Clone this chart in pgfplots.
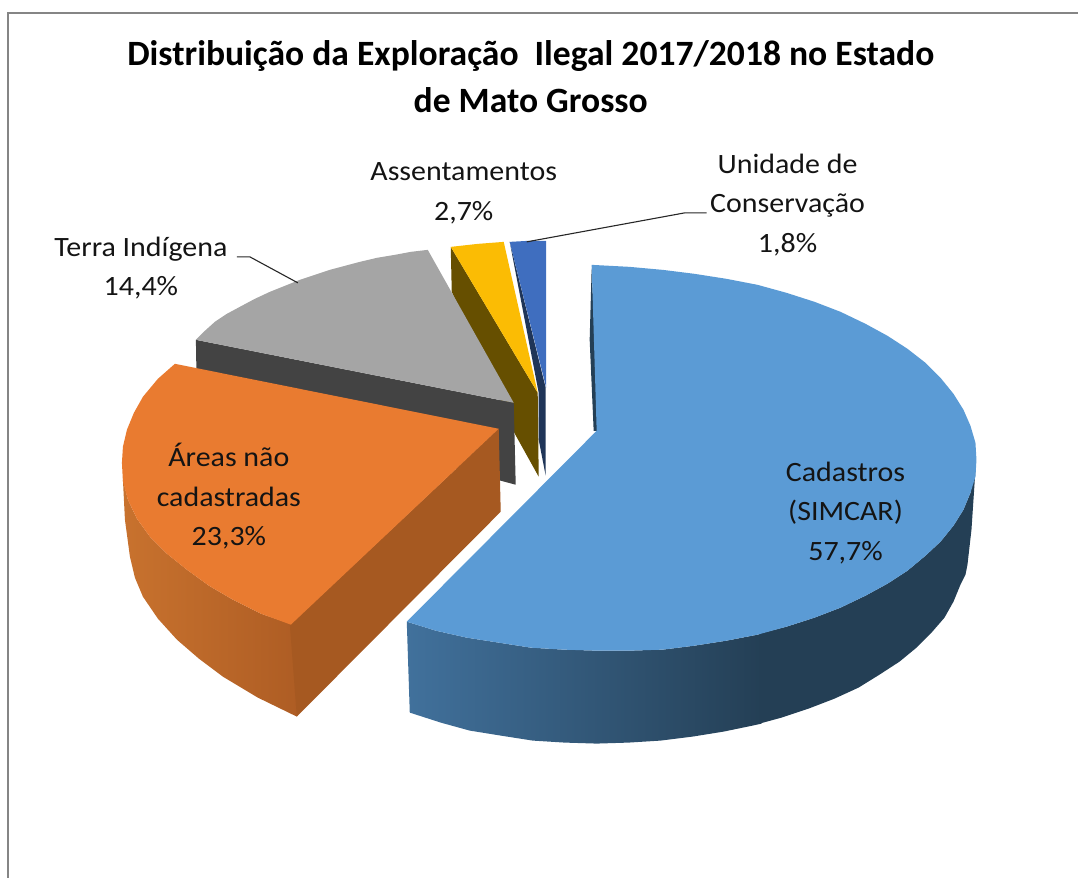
\documentclass[border=0pt]{standalone}
\usepackage{fontspec}
\setmainfont{Carlito}
\newfontfamily\labfont[FakeStretch=1.07]{Carlito}
\usepackage{pgfplots}
\pgfplotsset{compat=1.18}
\definecolor{cadtop}{HTML}{5B9BD5}
\definecolor{cadl}{HTML}{41719C}
\definecolor{cadd}{HTML}{243F55}
\definecolor{aretop}{HTML}{E97B30}
\definecolor{arel}{HTML}{C8722E}
\definecolor{arer}{HTML}{AE5D24}
\definecolor{areflat}{HTML}{A65921}
\definecolor{tertop}{HTML}{A5A5A5}
\definecolor{terside}{HTML}{434343}
\definecolor{asstop}{HTML}{FBBC04}
\definecolor{assside}{HTML}{664F00}
\definecolor{unitop}{HTML}{3F6EBF}
\definecolor{uniside}{HTML}{1F3558}
\definecolor{frame}{HTML}{858585}
\newcommand{\lab}{\labfont\fontsize{28}{39.5}\selectfont}
\begin{document}
\begin{tikzpicture}
\begin{axis}[
  width=1079pt, height=878pt, scale only axis,
  xmin=0, xmax=1079, ymin=0, ymax=878, y dir=reverse,
  hide axis, clip=false, no marks,
]
% frame
\addplot[draw=frame, line width=1.2pt] coordinates {(8,878) (8,13) (1079,13)};
% unidade de conservacao: side
\addplot[fill=uniside, draw=none] coordinates {(510,242) (546,388) (546,476) (539,440) (539,393)} --cycle;
% assentamentos: side
\addplot[fill=assside, draw=none] coordinates {(451,247) (538,393) (539,477) (514,432) (452,292)} --cycle;
% terra indigena
\addplot[fill=terside, draw=none] coordinates {(196,340) (514,403) (516,485) (490,478) (197,400)} --cycle;
\addplot[fill=tertop, draw=none] coordinates {(196,340) (205,331) (215,322) (227,314) (240,307) (255,299) (270,292) (285,286) (300,280) (315,275) (330,270) (345,266) (360,262) (377,258) (395,255) (411,252) (428,250) (514,403)} --cycle;
% assentamentos: top
\addplot[fill=asstop, draw=none] coordinates {(451,247) (478,244) (504,242) (538,393)} --cycle;
% unidade: top
\addplot[fill=unitop, draw=none] coordinates {(510,242) (528,241) (546.5,241) (546.5,388)} --cycle;
% areas nao cadastradas
\addplot[left color=arel, right color=arer, draw=none] coordinates {(123,480) (128,500) (137,519) (150,537) (167,554) (187,570) (209,586) (233,600) (261,614) (293,625) (298,715) (297,717) (258,698) (223,677) (199,659) (177,640) (158,619) (143,597) (135,578) (130,557) (125,520)} --cycle;
\addplot[fill=areflat, draw=none] coordinates {(499,429) (290,625) (297,717) (501,512)} --cycle;
\addplot[fill=aretop, draw=none] coordinates {(175,364) (158,379) (143,397) (134,413) (127,430) (123,447) (122,463) (123,482) (128,500) (137,519) (150,537) (167,554) (187,570) (209,586) (233,600) (261,614) (291,625) (499,429)} --cycle;
% cadastros: inner sliver, sides, top
\addplot[fill=cadd, draw=none] coordinates {(592,268) (590,340) (594,431) (599,431) (595,340)} --cycle;
\addplot[left color=cadl, right color=cadd, draw=none] coordinates {(407,622) (436,631) (467,638) (499,643) (531,648) (564,650) (597,651) (630,651) (663,650) (695,646) (727,641) (758,635) (762,634) (762,724) (753,726) (724,732) (693,737) (661,741) (629,743) (597,744) (565,743) (533,741) (501,736) (470,731) (441,723) (410,713)} --cycle;
\addplot[fill=cadd, draw=none] coordinates {(760,634) (787,627) (815,618) (841,608) (866,596) (888,584) (908,571) (926,556) (941,542) (954,526) (964,510) (971,493) (976,470) (975,485) (972,530) (968,565) (966,575) (961,585) (954,602) (945,618) (932,633) (917,648) (900,662) (880,675) (859,688) (835,699) (809,709) (782,718) (760,724)} --cycle;
\addplot[fill=cadtop, draw=none] coordinates {(592,265) (630,267) (663,270) (695,274) (727,279) (758,285) (787,293) (815,302) (841,312) (866,324) (888,336) (908,349) (926,363) (941,378) (954,394) (964,410) (971,426) (976,443) (977,460) (976,477) (971,493) (964,510) (954,526) (941,542) (926,556) (908,571) (888,584) (866,596) (841,608) (815,618) (787,627) (758,635) (727,641) (695,646) (663,650) (630,651) (597,651) (564,650) (531,648) (499,643) (467,638) (436,631) (407,622) (597,431)} --cycle;
% leader lines
\addplot[draw=black!85, line width=1.1pt] coordinates {(237,257) (250,257) (298,283)};
\addplot[draw=black!85, line width=1.1pt] coordinates {(527,242) (685,213) (707,213)};
% title and labels
\node[font=\fontsize{35.6}{47}\selectfont\bfseries, align=center] at (axis cs:531,77) {Distribuição da Exploração\ \ Ilegal 2017/2018 no Estado\\de Mato Grosso};
\node[font=\lab, align=center, text=black!92] at (axis cs:464,193.5) {Assentamentos\\2,7\%};
\node[font=\lab, align=center, text=black!92] at (axis cs:788,205) {Unidade de\\Conservação\\1,8\%};
\node[font=\lab, align=center, text=black!92] at (axis cs:141,268) {Terra Indígena\\14,4\%};
\node[font=\lab, align=center, text=black!92] at (axis cs:229,496.5) {Áreas não\hspace{8pt}\\cadastradas\\23,3\%};
\node[font=\lab, align=center, text=black!92] at (axis cs:846,513) {Cadastros\\(SIMCAR)\\57,7\%};
\path[use as bounding box] (axis cs:0,0) rectangle (axis cs:1079,878);
\end{axis}
\end{tikzpicture}
\end{document}
